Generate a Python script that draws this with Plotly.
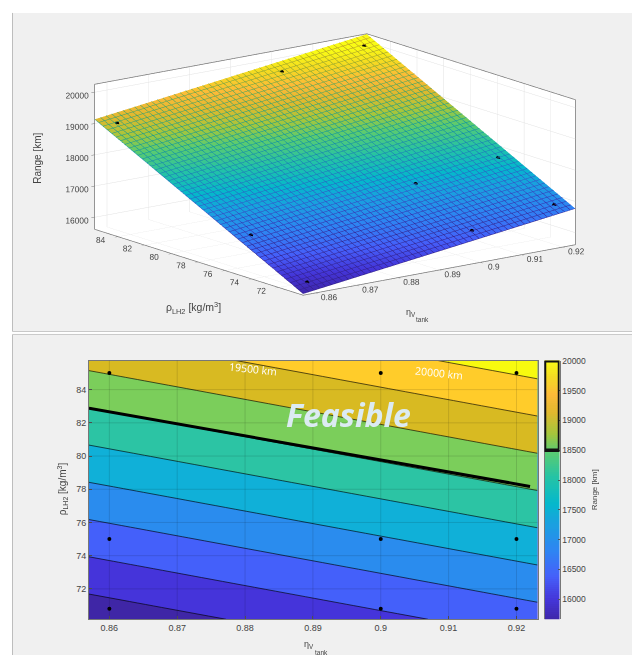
import plotly.graph_objects as go

W, H = 633, 655

eta_grid = [0.857, 0.86, 0.9, 0.92, 0.9231]
rho_grid = [70.17, 70.8, 75, 80, 85, 85.75]
range_grid = [
    [15661, 15711, 16383, 16719, 16771],
    [15802, 15852, 16524, 16860, 16912],
    [16738, 16788, 17460, 17796, 17848],
    [17853, 17903, 18575, 18911, 18963],
    [18968, 19018, 19690, 20026, 20078],
    [19136, 19186, 19858, 20194, 20246],
]

pt_eta = [0.86, 0.9, 0.92, 0.86, 0.9, 0.92, 0.86, 0.9, 0.92]
pt_rho = [85, 85, 85, 75, 75, 75, 70.8, 70.8, 70.8]
pt_range = [19030, 19700, 20040, 16800, 17470, 17810, 15865, 16535, 16875]

limit_eta = [0.857, 0.922]
limit_rho = [82.88, 78.17]

eta_ticks = [0.86, 0.87, 0.88, 0.89, 0.9, 0.91, 0.92]
eta_labels = ["0.86", "0.87", "0.88", "0.89", "0.9", "0.91", "0.92"]
rho_ticks = [72, 74, 76, 78, 80, 82, 84]
range_ticks = [16000, 17000, 18000, 19000, 20000]
cbar_ticks = [16000, 16500, 17000, 17500, 18000, 18500, 19000, 19500, 20000]
cbar_levels = list(range(15665, 20006, 35))

parula = [
    [0.00, "#3E26A8"], [0.08, "#4435D8"], [0.17, "#4560FA"], [0.27, "#2E85F2"],
    [0.37, "#1AA0E0"], [0.45, "#05B8CC"], [0.55, "#24C3A6"], [0.65, "#5CCB70"],
    [0.72, "#A5C63C"], [0.80, "#E0B92E"], [0.87, "#FDBA38"], [0.94, "#F5DC22"],
    [1.00, "#F9FB15"],
]
band_colors = ["#3F26A6", "#4534DA", "#4460FA", "#2A8CEE", "#10B0D8",
               "#2CC4A4", "#7BCE5B", "#D8BA22", "#FFCC2A", "#F8FA0F"]
contour_scale = [[i / 9, c] for i, c in enumerate(band_colors)]

TXT = "#444444"
FONT = "Liberation Sans"


def darker(hex_color, k=0.8):
    r, g, b = (int(hex_color[i:i + 2], 16) for i in (1, 3, 5))
    return f"rgb({int(r * k)},{int(g * k)},{int(b * k)})"


mesh_scale = [[p, darker(c)] for p, c in parula]


def px(x):
    return x / W


def py(y):
    return 1 - y / H


fig = go.Figure()

flat_light = dict(ambient=1, diffuse=0, specular=0, roughness=1, fresnel=0)
fig.add_trace(go.Surface(
    x=eta_grid, y=rho_grid, z=range_grid, cmin=15650, cmax=20000, colorscale=parula,
    showscale=False, lighting=flat_light, hoverinfo="skip",
))
# mesh lines only: same sheet, darker copy of the colour map
fig.add_trace(go.Surface(
    x=eta_grid, y=rho_grid, z=[[v + 6 for v in row] for row in range_grid],
    cmin=15650, cmax=20000, colorscale=mesh_scale, showscale=False, hidesurface=True,
    lighting=flat_light, hoverinfo="skip",
    contours=dict(
        x=dict(show=True, start=0.857, end=0.9231, size=0.00138, usecolormap=True, width=1),
        y=dict(show=True, start=70.17, end=85.75, size=0.325, usecolormap=True, width=1),
    ),
))
fig.add_trace(go.Scatter3d(
    x=pt_eta, y=pt_rho, z=pt_range, mode="markers",
    marker=dict(size=2.5, color="black"), showlegend=False,
))

fig.add_trace(go.Contour(
    x=eta_grid, y=rho_grid, z=range_grid, xaxis="x", yaxis="y", showscale=False,
    colorscale=contour_scale, autocontour=False,
    contours=dict(start=16000, end=20000, size=500, coloring="fill"),
    line=dict(color="rgba(0,0,0,0.8)", width=0.8), hoverinfo="skip",
))
fig.add_trace(go.Scatter(
    x=limit_eta, y=limit_rho, mode="lines", line=dict(color="black", width=3),
    xaxis="x", yaxis="y", showlegend=False,
))
fig.add_trace(go.Scatter(
    x=pt_eta, y=pt_rho, mode="markers", marker=dict(color="black", size=4),
    xaxis="x", yaxis="y", showlegend=False,
))
fig.add_trace(go.Heatmap(
    x=[0, 1], y=cbar_levels, z=[[v, v] for v in cbar_levels], zmin=15650, zmax=20000,
    colorscale=parula, showscale=False, xaxis="x2", yaxis="y2", hoverinfo="skip",
))

shapes = [
    dict(type="rect", xref="paper", yref="paper", layer="below",
         x0=px(12.5), x1=px(632), y0=py(329), y1=py(8),
         fillcolor="#F0F0F0", line=dict(width=0)),
    dict(type="rect", xref="paper", yref="paper", layer="below",
         x0=px(12.5), x1=px(632), y0=py(655), y1=py(332),
         fillcolor="#F0F0F0", line=dict(width=0)),
    dict(type="line", xref="paper", yref="paper", x0=px(12.5), x1=px(12.5), y0=py(329), y1=py(8),
         line=dict(color="#BDBDBD", width=1), layer="below"),
    dict(type="line", xref="paper", yref="paper", x0=px(12.5), x1=px(12.5), y0=py(655), y1=py(332),
         line=dict(color="#BDBDBD", width=1), layer="below"),
    dict(type="line", xref="paper", yref="paper", x0=px(12.5), x1=px(632), y0=py(329), y1=py(329),
         line=dict(color="#C8C8C8", width=1), layer="below"),
    dict(type="line", xref="paper", yref="paper", x0=px(12.5), x1=px(632), y0=py(332), y1=py(332),
         line=dict(color="#C8C8C8", width=1), layer="below"),
    # frame highlighting the feasible part of the colour bar
    dict(type="rect", xref="x2", yref="y2", x0=0, x1=1, y0=18500, y1=20000,
         line=dict(color="#111111", width=3.5), layer="above"),
]
for t in eta_ticks:
    shapes.append(dict(type="line", xref="x", yref="paper", x0=t, x1=t, y0=py(619), y1=py(358.3),
                       line=dict(color="rgba(0,0,0,0.12)", width=1), layer="above"))
for t in rho_ticks:
    shapes.append(dict(type="line", xref="paper", yref="y", x0=px(89), x1=px(537.5), y0=t, y1=t,
                       line=dict(color="rgba(0,0,0,0.12)", width=1), layer="above"))


def note(x, y, text, size=10, color=TXT, angle=0, **kw):
    return dict(xref="paper", yref="paper", x=px(x), y=py(y), text=text, showarrow=False,
                font=dict(size=size, color=color, family=kw.pop("family", FONT)), textangle=angle,
                xanchor="center", yanchor="middle", **kw)


annotations = [
    note(38, 155, "Range [km]", 10, angle=-90),
    note(193, 305, "ρ<sub>LH2</sub> [kg/m<sup>3</sup>]", 10.5),
    note(411, 310, "η<sub>V</sub>", 9),
    note(422, 317, "tank", 6.5),
    note(62, 488, "ρ<sub>LH2</sub> [kg/m<sup>3</sup>]", 10, angle=-90),
    note(309, 644, "η<sub>V</sub>", 9),
    note(321, 652, "tank", 6.5),
    note(594, 489, "Range [km]", 8, angle=-90),
    note(348, 413, "<b><i>Feasible</i></b>", 32, color="#DCEBF2", family="Open Sans"),
    note(253, 367, "19500 km", 10.5, color="white", angle=6, family="Open Sans"),
    note(439, 371, "20000 km", 10.5, color="white", angle=6, family="Open Sans"),
]

axis3d = dict(showbackground=True, backgroundcolor="white", gridcolor="#E2E2E2", gridwidth=1,
              showline=True, mirror=True, linecolor="#777777", linewidth=1.5, zeroline=False, showspikes=False,
              ticks="outside", ticklen=4, tickcolor="#777777", title=dict(text=""), tickangle=0,
              tickformat="d", tickfont=dict(size=10, color=TXT, family=FONT))

fig.update_layout(
    width=W, height=H, margin=dict(l=0, r=0, t=0, b=0), autosize=False,
    paper_bgcolor="white", plot_bgcolor="#F0F0F0", showlegend=False, font=dict(family=FONT),
    shapes=shapes, annotations=annotations,
    scene=dict(
        domain=dict(x=[px(36.5), px(632)], y=[py(321.3), py(0.3)]),
        xaxis=dict(axis3d, range=[0.857, 0.9231], tickvals=eta_ticks, ticktext=eta_labels, tickformat=""),
        yaxis=dict(axis3d, range=[70.17, 85.75], tickvals=rho_ticks),
        zaxis=dict(axis3d, range=[15616, 20256], tickvals=range_ticks),
        aspectmode="manual", aspectratio=dict(x=2.15, y=2.15, z=0.937),
        camera=dict(projection=dict(type="orthographic"),
                    eye=dict(x=-0.95, y=-1.24, z=0.39),
                    center=dict(x=0, y=0, z=0), up=dict(x=0, y=0, z=1)),
    ),
    xaxis=dict(domain=[px(89), px(537.5)], range=[0.857, 0.9231], tickvals=eta_ticks, ticktext=eta_labels,
               ticks="inside", ticklen=3, tickcolor="#555", showline=True, mirror=True, linecolor="#777",
               showgrid=False, zeroline=False, tickfont=dict(size=9, color=TXT), anchor="y"),
    yaxis=dict(domain=[py(619), py(358.3)], range=[70.17, 85.75], tickvals=rho_ticks,
               ticks="inside", ticklen=3, tickcolor="#555", showline=True, mirror=True, linecolor="#777",
               showgrid=False, zeroline=False, tickfont=dict(size=9, color=TXT), anchor="x"),
    xaxis2=dict(domain=[px(544.5), px(559.5)], range=[0, 1], visible=False, anchor="y2"),
    yaxis2=dict(domain=[py(619), py(358.3)], range=[15665, 20005], side="right", anchor="x2",
                tickvals=cbar_ticks, tickformat="d", ticks="inside", ticklen=2, tickcolor="#555", showline=True,
                mirror=True, linecolor="#777", showgrid=False, zeroline=False, tickfont=dict(size=8.5, color=TXT)),
)

fig.write_html("out.html", config=dict(displayModeBar=False), post_script="document.body.style.margin='0';")
